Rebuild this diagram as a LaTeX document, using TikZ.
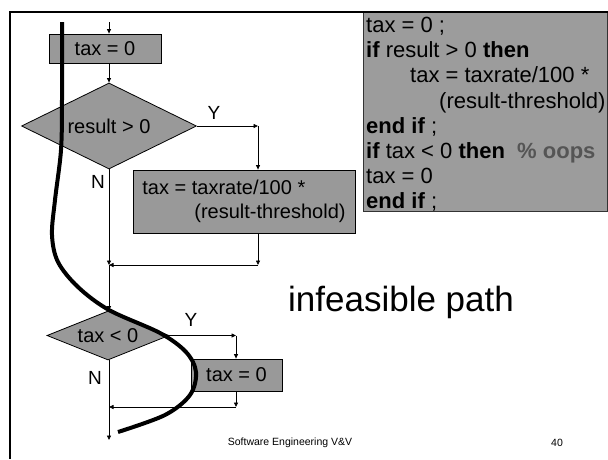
\documentclass[tikz,border=0pt]{standalone}
\usepackage{fontspec}
\setmainfont{Liberation Sans}
\usetikzlibrary{shapes.geometric,arrows.meta,calc}
\definecolor{boxgray}{HTML}{999999}
\definecolor{codegray}{HTML}{9C9C9C}
\definecolor{oops}{HTML}{555555}
\begin{document}
\begin{tikzpicture}[x=1pt,y=-1pt,
  flow/.style={draw=black,line width=0.8pt,fill=boxgray,inner sep=0pt,font=\fontsize{20}{24}\selectfont},
  procbox/.style={flow,rectangle},
  decbox/.style={flow,diamond,aspect=2},
  conn/.style={line width=0.8pt,-{Triangle[length=4.5pt,width=4pt]}},
  lbl/.style={font=\fontsize{19}{22}\selectfont,inner sep=0pt},
  codetext/.style={font=\fontsize{22}{25.2}\selectfont,align=left,inner sep=0pt,anchor=north west},
  path/.style={line width=4pt,line cap=butt}]
\useasboundingbox (0,0) rectangle (608,459);

% code box
\node[draw=black!80,line width=0.8pt,fill=codegray,minimum width=244pt,minimum height=199pt,anchor=north west,inner sep=0pt] (code) at (363,12) {};
\node[codetext] (codetxt) at (366,17) {%
tax = 0 ;\\
\textbf{if} result > 0 \textbf{then}\\
\hspace*{44pt}tax = taxrate/100 *\\
\hspace*{73pt}(result-threshold)\\
\textbf{end if} ;\\
\textbf{if} tax < 0 \textbf{then}\ \ \textcolor{oops}{\textbf{\% oops}}\\
tax = 0\\
\textbf{end if} ;};

% slide frame
\draw[line width=2pt] (608,12) -- (9.5,12) -- (9.5,459);

% flowchart nodes
\coordinate (start) at (109,22);
\node[procbox,minimum width=112pt,minimum height=29pt] (b1) at (105,48.5) {tax = 0};
\node[decbox,minimum width=175pt,minimum height=86pt] (d1) at (109,126) {result > 0};
\node[procbox,minimum width=222pt,minimum height=63pt,align=left] (b2) at (244,201.5)
  {tax = taxrate/100 *\\\hspace*{52pt}(result-threshold)};
\coordinate (c1) at (258,126);
\coordinate (m1) at (109,265);
\node[decbox,minimum width=122pt,minimum height=49pt] (d2) at (108,335.5) {tax < 0};
\node[procbox,minimum width=91pt,minimum height=32pt] (b3) at (236.5,375) {tax = 0};
\coordinate (c2) at (236,335.5);
\coordinate (m2) at (109,407);
\coordinate (stop) at (109,440);

% connectors
\draw[conn] (start) -- (start |- b1.north);
\draw[conn] (b1.south -| d1.north) -- (d1.north);
\draw[conn] (d1.east) -- (c1);
\draw[conn] (c1) -- (c1 |- b2.north);
\draw[conn] (c1 |- b2.south) -- (c1 |- m1);
\draw[conn] (c1 |- m1) -- (m1);
\draw[conn] (d1.south) -- (m1);
\draw[conn] (m1) -- (d2.north -| m1);
\draw[conn] (d2.east) -- (c2);
\draw[conn] (c2) -- (c2 |- b3.north);
\draw[conn] (c2 |- b3.south) -- (c2 |- m2);
\draw[conn] (c2 |- m2) -- (m2);
\draw[conn] (d2.south -| m2) -- (stop);

% branch labels
\node[lbl] (y1) at (214,113) {Y};
\node[lbl] (n1) at (98,182) {N};
\node[lbl] (y2) at (191,320) {Y};
\node[lbl] (n2) at (95,378) {N};

% infeasible path
\draw[path] plot[smooth,tension=0.55] coordinates {(62,22) (62,100) (61,150) (55,200) (52,235) (58,262) (78,287) (109,310) (160,333) (186,352) (196,372) (190,395) (165,415) (118,432)};

\node[font=\fontsize{35}{40}\selectfont,inner sep=0pt] (title) at (401,302) {infeasible path};

% footer
\node[font=\fontsize{10.5}{12}\selectfont,inner sep=0pt] (foot) at (290,443) {Software Engineering V\&V};
\node[font=\fontsize{10.5}{12}\selectfont,inner sep=0pt] (page) at (557,443) {40};
\end{tikzpicture}
\end{document}
